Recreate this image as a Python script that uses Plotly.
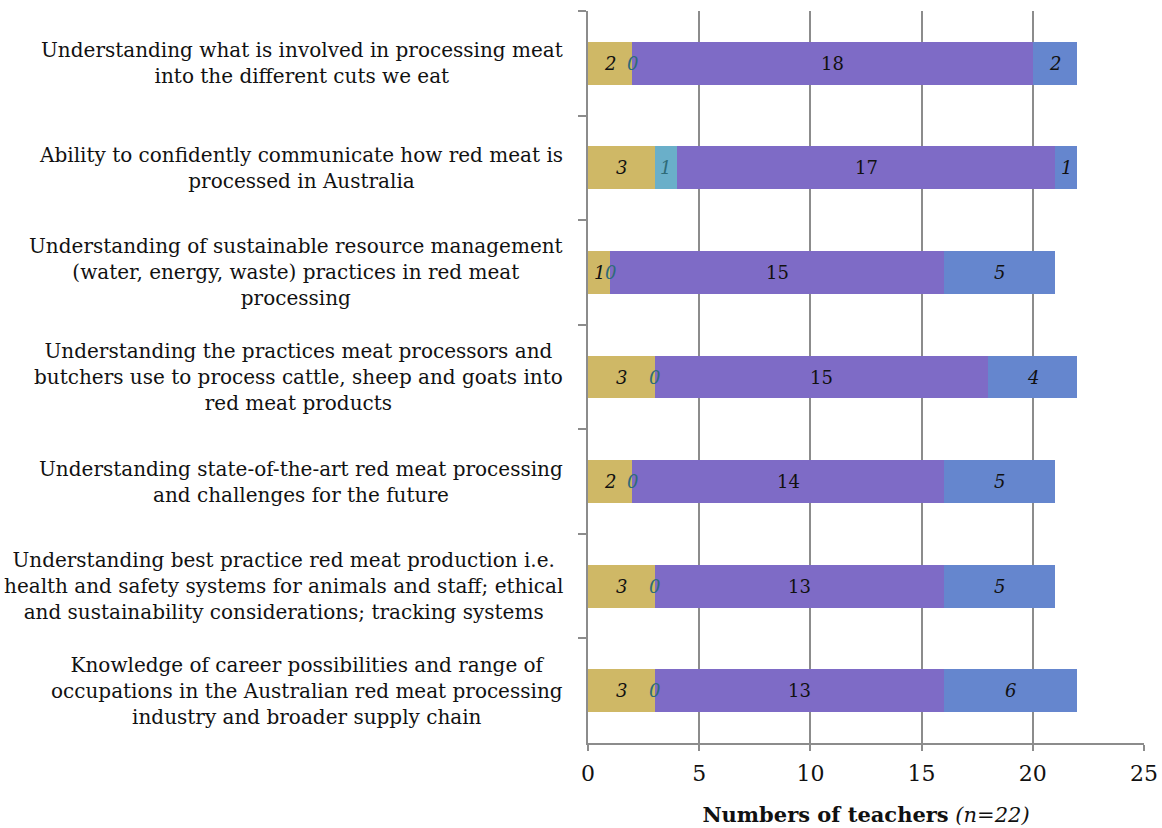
import plotly.graph_objects as go

categories = [
    "Understanding what is involved in processing meat<br>into the different cuts we eat",
    "Ability to confidently communicate how red meat is<br>processed in Australia",
    "Understanding of sustainable resource management<br>(water, energy, waste) practices in red meat<br>processing",
    "Understanding the practices meat processors and<br>butchers use to process cattle, sheep and goats into<br>red meat products",
    "Understanding state-of-the-art red meat processing<br>and challenges for the future",
    "Understanding best practice red meat production i.e.<br>health and safety systems for animals and staff; ethical<br>and sustainability considerations; tracking systems",
    "Knowledge of career possibilities and range of<br>occupations in the Australian red meat processing<br>industry and broader supply chain",
]
series_a = [2, 3, 1, 3, 2, 3, 3]
series_b = [0, 1, 0, 0, 0, 0, 0]
series_c = [18, 17, 15, 15, 14, 13, 13]
series_d = [2, 1, 5, 4, 5, 5, 6]

series = [series_a, series_b, series_c, series_d]
colors = ["#CFB866", "#6AAFC9", "#7E6BC6", "#6586CE"]
label_styles = [
    dict(italic=True, color="#111111"),
    dict(italic=True, color="#2E6B78"),
    dict(italic=False, color="#111111"),
    dict(italic=True, color="#111111"),
]

FONT = "DejaVu Serif"

fig = go.Figure()
for vals, col in zip(series, colors):
    fig.add_trace(go.Bar(
        y=categories, x=vals, orientation="h",
        marker=dict(color=col, line=dict(width=0)),
        hoverinfo="x+y", showlegend=False,
    ))

annotations = []
for i, cat in enumerate(categories):
    base = 0
    for vals, sty in zip(series, label_styles):
        v = vals[i]
        txt = f"<i>{v}</i>" if sty["italic"] else str(v)
        annotations.append(dict(
            x=base + v / 2, y=cat, xref="x", yref="y", text=txt,
            showarrow=False, xanchor="center", yanchor="middle",
            font=dict(family=FONT, size=18, color=sty["color"]),
        ))
        base += v
    annotations.append(dict(
        x=-0.042, y=cat, xref="paper", yref="y", text=cat,
        showarrow=False, xanchor="right", yanchor="middle", align="center",
        font=dict(family=FONT, size=20, color="#111111"),
    ))

fig.update_layout(
    width=1162, height=828,
    barmode="stack", bargap=0.59,
    plot_bgcolor="white", paper_bgcolor="white",
    margin=dict(l=588, r=18, t=11, b=85),
    font=dict(family=FONT, color="#111111"),
    annotations=annotations,
    xaxis=dict(
        range=[0, 25], dtick=5, tick0=0, automargin=False,
        ticklabeloverflow="allow", ticklabelstandoff=4,
        showgrid=True, gridcolor="#8C8C8C", gridwidth=2,
        zeroline=False,
        showline=True, linecolor="#8C8C8C", linewidth=2,
        ticks="outside", ticklen=6, tickcolor="#8C8C8C", tickwidth=2,
        tickfont=dict(family=FONT, size=22, color="#111111"),
        title=dict(text="<b>Numbers of teachers</b> <i>(n=22)</i>",
                   font=dict(family=FONT, size=21, color="#111111"), standoff=22),
    ),
    yaxis=dict(
        type="category", autorange="reversed", automargin=False,
        showticklabels=False, showgrid=False,
        showline=True, linecolor="#8C8C8C", linewidth=2,
        ticks="outside", ticklen=8, tickcolor="#8C8C8C", tickwidth=2,
        tickson="boundaries",
    ),
)

fig.write_html("out.html")
